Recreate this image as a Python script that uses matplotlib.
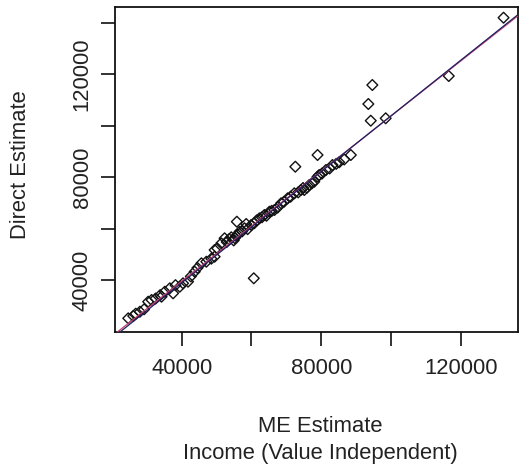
import numpy as np
import matplotlib
matplotlib.use("Agg")
import matplotlib.pyplot as plt

plt.rcParams['font.family'] = ['Liberation Sans', 'DejaVu Sans']

# ME estimate vs direct estimate, income by area
me_est = [24657, 26086, 28000, 30371, 31343, 34200, 35143, 36571, 37514, 39429,
          40371, 41800, 43714, 45629, 47057, 48486, 49429, 51343, 49429, 52286,
          54200, 55629, 56571, 58000, 59914, 62286, 63714, 65143, 66571, 68486,
          70371, 72286, 74200, 75143, 76571, 78000, 78943, 79429, 81343, 83229,
          85143, 88486, 98486,
          26800, 29200, 32500, 33800, 38200, 42600, 44500, 50200, 52900, 53600,
          54900, 55200, 56000, 57300, 58900, 60800, 61500, 63000, 64300, 65800,
          67500, 69300, 71200, 73400, 74800, 75900, 77300, 80200, 82400, 84300,
          86600,
          132286, 116571, 94657, 93514, 94200, 78943, 72571, 60657, 55800, 58486]
direct_est = [25097, 25992, 27665, 31557, 32218, 33502, 35448, 36770, 34825, 37393,
              38716, 39339, 43230, 46498, 47121, 48300, 49066, 54280, 51673, 56225,
              56614, 57120, 58793, 60116, 61400, 64007, 65292, 66576, 67237, 69844,
              71790, 73735, 75019, 75019, 76965, 78249, 80194, 80856, 82801, 84747,
              85798, 88638, 102918,
              26900, 28600, 32800, 34100, 38000, 41400, 44700, 52300, 54800, 55900,
              55400, 56300, 57600, 58900, 59800, 62100, 63200, 64400, 65000, 66900,
              68200, 70400, 72400, 74100, 75800, 75900, 77600, 81400, 83400, 85200,
              86900,
              142062, 119376, 115875, 108482, 101984, 88638, 84086, 40661, 62685, 61790]

# fitted lines (intercept, slope)
fit_red = (-3300, 1.071)
fit_blue = (-4346, 1.082)

xlim = (20857, 136286)
ylim = (19767, 146226)

fig = plt.figure(figsize=(5.19, 4.72), dpi=100)
ax = fig.add_axes([115/519, 1-332/472, 402.5/519, 325/472])

ax.scatter(me_est, direct_est, marker='D', s=30, facecolors='none',
           edgecolors='#111111', linewidths=1.0, zorder=2)

xx = np.array(xlim)
ax.plot(xx, fit_red[0] + fit_red[1]*xx, color='#c04070', lw=0.9, zorder=3)
ax.plot(xx, fit_blue[0] + fit_blue[1]*xx, color='#202060', lw=0.9, zorder=3)

ax.set_xlim(xlim)
ax.set_ylim(ylim)

xticks = [40000, 60000, 80000, 100000, 120000]
yticks = [40000, 60000, 80000, 100000, 120000, 140000]
ax.set_xticks(xticks)
ax.set_xticklabels(['40000', '', '80000', '', '120000'])
ax.set_yticks(yticks)
ax.set_yticklabels(['40000', '', '80000', '', '120000', ''], rotation=90, va='center')

txt = '#222222'
ax.tick_params(axis='both', length=10, width=1.2, labelsize=15.8, colors='#111111',
               labelcolor=txt)
ax.tick_params(axis='x', pad=9)
ax.tick_params(axis='y', pad=6)
for s in ax.spines.values():
    s.set_linewidth(1.3)
    s.set_color('#111111')

fig.text(320/519, 1-427/472, 'ME Estimate', ha='center', va='center', fontsize=15.8, color=txt)
fig.text(320/519, 1-453/472, 'Income (Value Independent)', ha='center', va='center',
         fontsize=15.8, color=txt)
fig.text(21/519, 1-165/472, 'Direct Estimate', ha='center', va='center', rotation=90,
         fontsize=15.8, color=txt)

fig.savefig('out.png', dpi=100)
